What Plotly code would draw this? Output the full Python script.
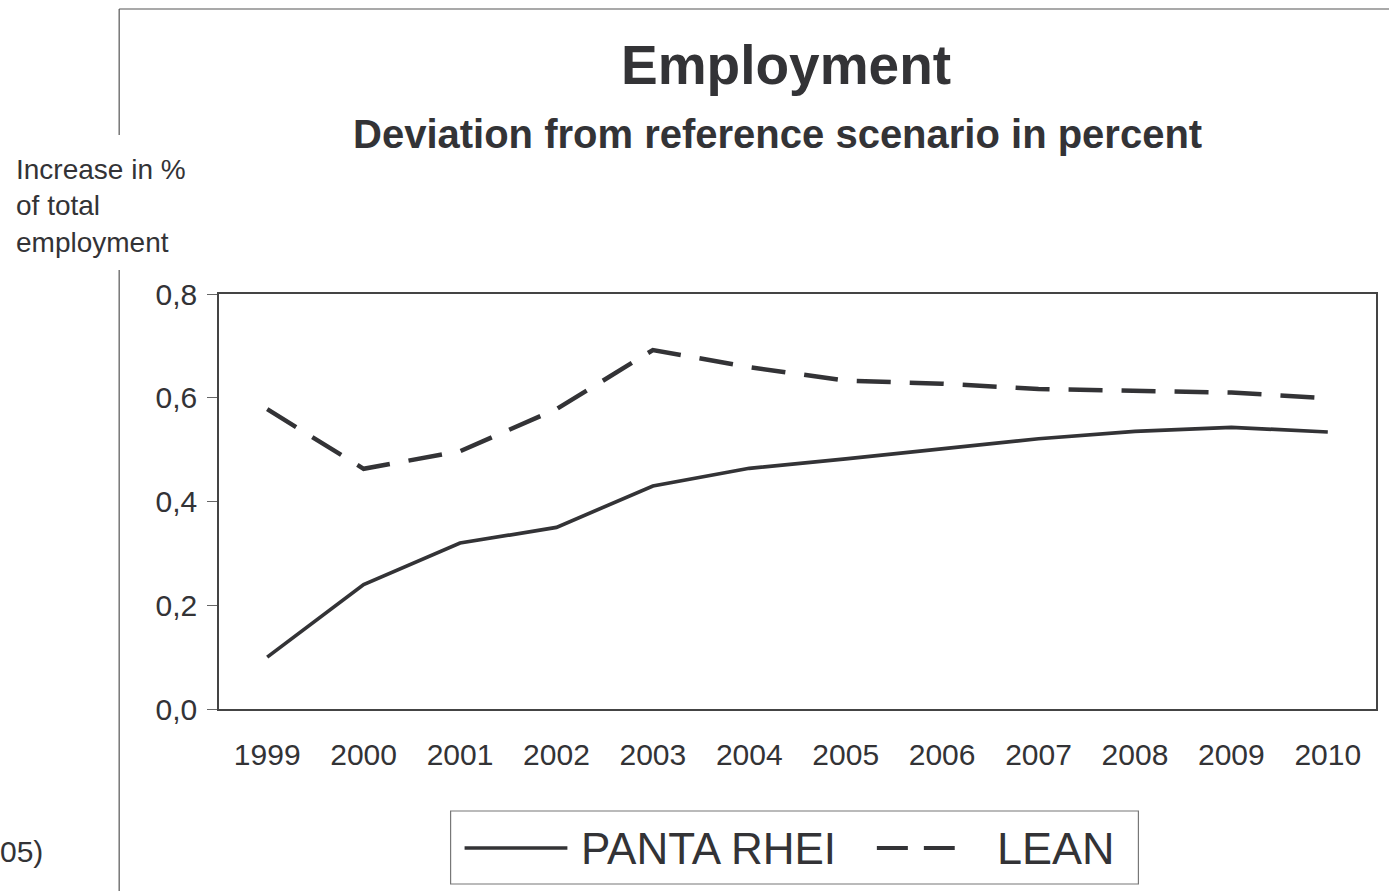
import plotly.graph_objects as go

# Employment effect: deviation from the reference scenario (percent of total employment)
years = ["1999", "2000", "2001", "2002", "2003", "2004",
         "2005", "2006", "2007", "2008", "2009", "2010"]
panta_rhei = [0.10, 0.24, 0.32, 0.35, 0.43, 0.464, 0.482, 0.501, 0.521, 0.535, 0.543, 0.534]
lean = [0.578, 0.463, 0.497, 0.578, 0.692, 0.659, 0.633, 0.627, 0.617, 0.613, 0.610, 0.599]
y_ticks = [0.0, 0.2, 0.4, 0.6, 0.8]
series_names = ["PANTA RHEI", "LEAN"]

W, H = 1389, 891
L, R, T, B = 219, 11, 294, 182
PW, PH = W - L - R, H - T - B

FONT = "Liberation Sans, Arial, sans-serif"
INK = "#333336"
FRAME = "#555555"


def px_x(p):
    return (p - L) / PW


def px_y(p):
    return (H - B - p) / PH


fig = go.Figure()
fig.add_trace(go.Scatter(
    x=years, y=panta_rhei, name=series_names[0], mode="lines",
    line=dict(color=INK, width=3.7), showlegend=False))
fig.add_trace(go.Scatter(
    x=years, y=lean, name=series_names[1], mode="lines",
    line=dict(color=INK, width=4.5, dash="34px,19px"), showlegend=False))

shapes = []
# outer chart frame (top edge and left edge, broken around the axis caption)
shapes.append(dict(type="line", xref="paper", yref="paper",
                   x0=px_x(119), x1=px_x(W + 5), y0=px_y(9), y1=px_y(9),
                   line=dict(color=FRAME, width=1.2)))
shapes.append(dict(type="line", xref="paper", yref="paper",
                   x0=px_x(119), x1=px_x(119), y0=px_y(9), y1=px_y(135),
                   line=dict(color=FRAME, width=1.2)))
shapes.append(dict(type="line", xref="paper", yref="paper",
                   x0=px_x(119), x1=px_x(119), y0=px_y(270), y1=px_y(H + 5),
                   line=dict(color=FRAME, width=1.2)))

# legend box with its line samples
leg_cy = 848
shapes.append(dict(type="rect", xref="paper", yref="paper",
                   x0=px_x(451), x1=px_x(1140), y0=px_y(811), y1=px_y(884),
                   line=dict(color="#777777", width=1.2), fillcolor="rgba(0,0,0,0)"))
shapes.append(dict(type="line", xref="paper", yref="paper",
                   x0=px_x(465), x1=px_x(568), y0=px_y(leg_cy), y1=px_y(leg_cy),
                   line=dict(color=INK, width=3.7)))
shapes.append(dict(type="line", xref="paper", yref="paper",
                   x0=px_x(878), x1=px_x(956), y0=px_y(leg_cy), y1=px_y(leg_cy),
                   line=dict(color=INK, width=4, dash="31px,16px")))

annotations = [
    dict(text="<b>Employment</b>", x=px_x(787), y=px_y(65), xref="paper", yref="paper",
         showarrow=False, xanchor="center", yanchor="middle",
         font=dict(family=FONT, size=55, color=INK)),
    dict(text="<b>Deviation from reference scenario in percent</b>",
         x=px_x(778), y=px_y(134), xref="paper", yref="paper",
         showarrow=False, xanchor="center", yanchor="middle",
         font=dict(family=FONT, size=40, color=INK)),
    dict(text="Increase in %<br>of total<br>employment",
         x=px_x(14), y=px_y(206), xref="paper", yref="paper",
         showarrow=False, xanchor="left", yanchor="middle", align="left",
         font=dict(family=FONT, size=28, color=INK)),
    dict(text="05)", x=px_x(-2), y=px_y(851), xref="paper", yref="paper",
         showarrow=False, xanchor="left", yanchor="middle",
         font=dict(family=FONT, size=30, color=INK)),
    dict(text=series_names[0], x=px_x(580), y=px_y(leg_cy), xref="paper", yref="paper",
         showarrow=False, xanchor="left", yanchor="middle",
         font=dict(family=FONT, size=44, color=INK)),
    dict(text=series_names[1], x=px_x(996), y=px_y(leg_cy), xref="paper", yref="paper",
         showarrow=False, xanchor="left", yanchor="middle",
         font=dict(family=FONT, size=45, color=INK)),
]

fig.update_layout(
    width=W, height=H,
    margin=dict(l=L, r=R, t=T, b=B, pad=0),
    paper_bgcolor="white", plot_bgcolor="white",
    separators=",.",
    showlegend=False,
    shapes=shapes,
    annotations=annotations,
    font=dict(family=FONT, color=INK),
    xaxis=dict(
        type="category", range=[-0.5, 11.5],
        showline=True, linecolor="#444444", linewidth=1.5, mirror=True,
        showgrid=False, zeroline=False, ticks="",
        ticklabelstandoff=18,
        tickfont=dict(family=FONT, size=30, color=INK),
    ),
    yaxis=dict(
        range=[0, 0.8], tickvals=y_ticks, tickformat=".1f",
        showline=True, linecolor="#444444", linewidth=1.5, mirror=True,
        showgrid=False, zeroline=False,
        ticks="outside", ticklen=10, tickcolor="#666666", tickwidth=1.2,
        ticklabelstandoff=4,
        tickfont=dict(family=FONT, size=30, color=INK),
    ),
)

fig.write_html("out.html")
